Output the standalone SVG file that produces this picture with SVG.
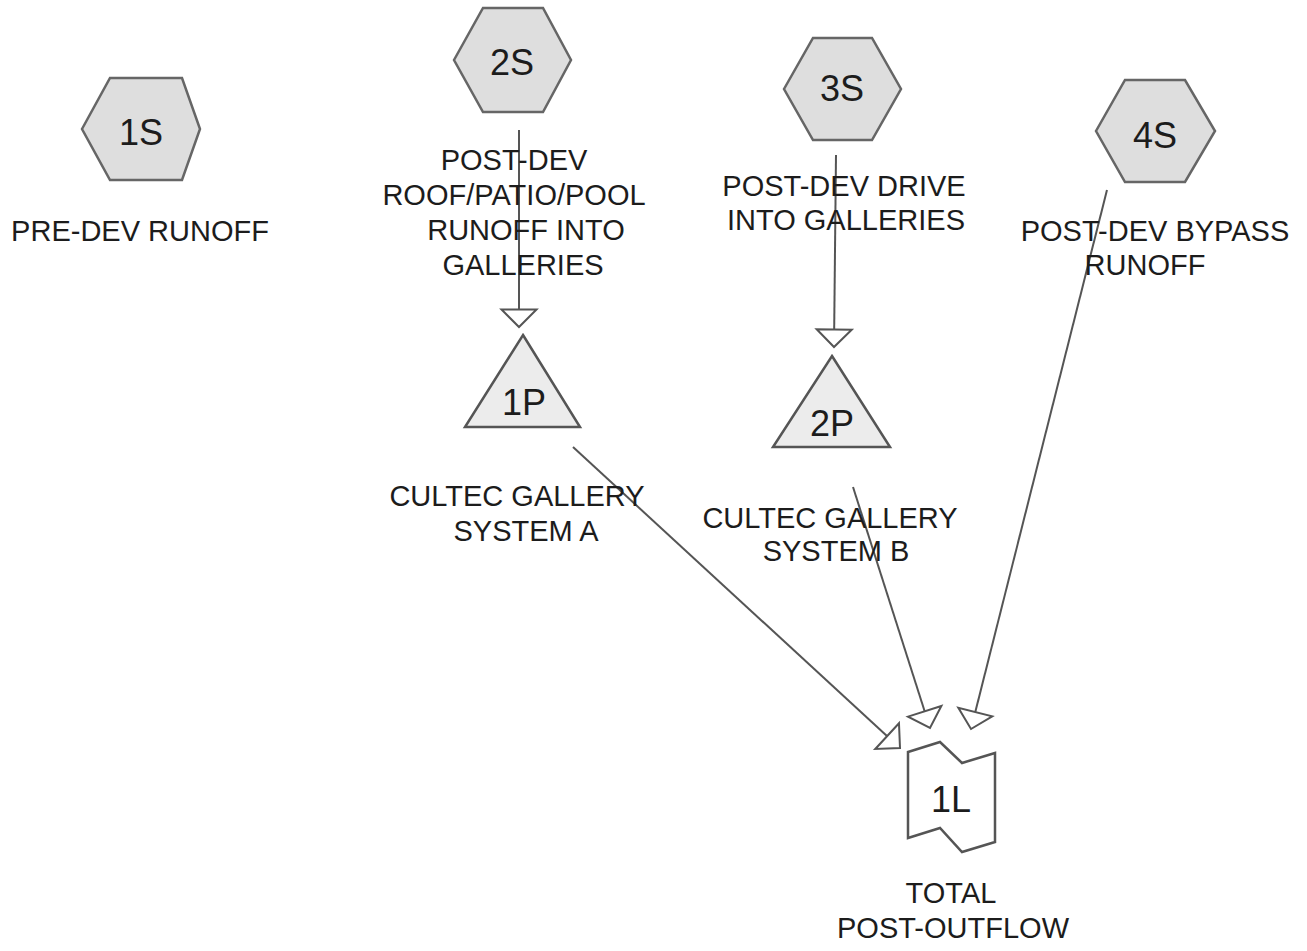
<svg xmlns="http://www.w3.org/2000/svg" width="1307" height="951" viewBox="0 0 1307 951">
<style>
text{font-family:"Liberation Sans",Arial,sans-serif;fill:#1c1c1c;text-anchor:middle}
.lbl{font-size:29px}
.id{font-size:36px}
.hex{fill:#dedede;stroke:#666;stroke-width:2.5}
.pond{fill:#ececec;stroke:#555;stroke-width:2.5}
.link{fill:#fff;stroke:#555;stroke-width:2.5}
.c{stroke:#555;stroke-width:2;fill:none;marker-end:url(#ah)}
</style>
<defs>
<marker id="ah" markerUnits="userSpaceOnUse" markerWidth="20" markerHeight="38" viewBox="-1 -1 20 38" refX="17.5" refY="17.5" orient="auto" overflow="visible">
<path d="M0,0 L17.5,17.5 L0,35 Z" fill="#fff" stroke="#555" stroke-width="2"/>
</marker>
</defs>
<rect width="1307" height="951" fill="#fff"/>
<g id="connectors">
<line class="c" x1="519" y1="130" x2="519" y2="327"/>
<line class="c" x1="836" y1="155" x2="834" y2="347"/>
<line class="c" x1="573" y1="447" x2="900" y2="748"/>
<line class="c" x1="853" y1="487" x2="930" y2="728"/>
<line class="c" x1="1107" y1="190" x2="971" y2="729"/>
</g>
<g id="1S">
<polygon class="hex" points="82,129 110,78 182,78 200,129 182,180 110,180"/>
<text class="id" x="141" y="145">1S</text>
<text class="lbl" x="140" y="241">PRE-DEV RUNOFF</text>
</g>
<g id="2S">
<polygon class="hex" points="454,60 483,8 543,8 571,60 543,112 483,112"/>
<text class="id" x="512" y="75">2S</text>
<text class="lbl" x="514" y="170">POST-DEV</text>
<text class="lbl" x="514" y="205">ROOF/PATIO/POOL</text>
<text class="lbl" x="526" y="240">RUNOFF INTO</text>
<text class="lbl" x="523" y="275">GALLERIES</text>
</g>
<g id="3S">
<polygon class="hex" points="784,89 813,38 872,38 901,89 872,140 813,140"/>
<text class="id" x="842" y="101">3S</text>
<text class="lbl" x="844" y="196">POST-DEV DRIVE</text>
<text class="lbl" x="846" y="230">INTO GALLERIES</text>
</g>
<g id="4S">
<polygon class="hex" points="1096,131 1125,80 1185,80 1215,131 1185,182 1125,182"/>
<text class="id" x="1155" y="148">4S</text>
<text class="lbl" x="1155" y="241">POST-DEV BYPASS</text>
<text class="lbl" x="1145" y="275">RUNOFF</text>
</g>
<g id="1P">
<polygon class="pond" points="523,335 580,427 465,427"/>
<text class="id" x="524" y="415">1P</text>
<text class="lbl" x="517" y="506">CULTEC GALLERY</text>
<text class="lbl" x="526" y="541">SYSTEM A</text>
</g>
<g id="2P">
<polygon class="pond" points="832,356 890,447 773,447"/>
<text class="id" x="832" y="436">2P</text>
<text class="lbl" x="830" y="528">CULTEC GALLERY</text>
<text class="lbl" x="836" y="561">SYSTEM B</text>
</g>
<g id="1L">
<polygon class="link" points="908,752 940,742 962,763 995,753 995,842 962,852 940,828 908,838"/>
<text class="id" x="951" y="812">1L</text>
<text class="lbl" x="951" y="903">TOTAL</text>
<text class="lbl" x="953" y="938">POST-OUTFLOW</text>
</g>
</svg>
